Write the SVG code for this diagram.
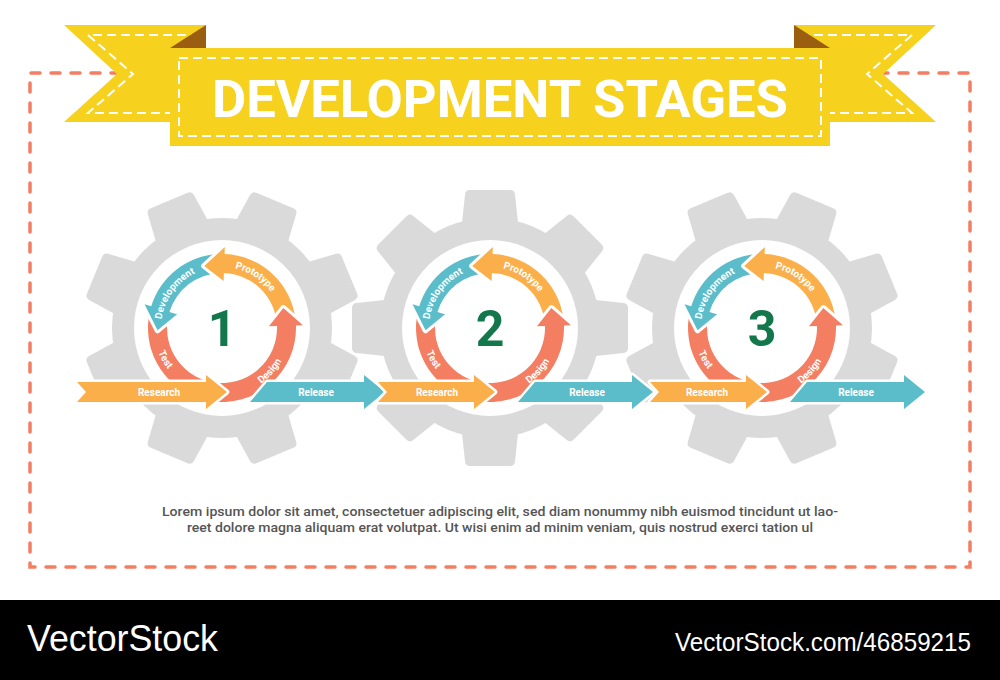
<svg xmlns="http://www.w3.org/2000/svg" xmlns:xlink="http://www.w3.org/1999/xlink" width="1000" height="680" viewBox="0 0 1000 680">
<style>
.gear{fill:#dadada}
.tooth{fill:#dadada;stroke:#dadada;stroke-width:10;stroke-linejoin:round}
.or{fill:#fbaf4a}
.tl{fill:#5bbdca}
.co{fill:#f47e62}
.wst{stroke:#fff;stroke-width:6;paint-order:stroke;stroke-linejoin:round}
.hst{stroke:#fff;stroke-width:5;paint-order:stroke;stroke-linejoin:round}
.lbl{font-family:Roboto,"Liberation Sans",sans-serif;font-weight:700;font-size:10px;fill:#fff;text-anchor:middle}
.num{font-family:Roboto,"Liberation Sans",sans-serif;font-weight:700;font-size:50px;fill:#14774c;text-anchor:middle}
.dash{fill:none;stroke:#fff;stroke-width:2;stroke-dasharray:9 5}
.yel{fill:#f6d21e}
.fold{fill:#9b5d10}
.body{font-family:Roboto,"Liberation Sans",sans-serif;font-weight:500;font-size:13px;fill:#555;text-anchor:middle}
</style>
<defs>
  <polygon id="tooth" class="tooth" points="-23,-105 -20,-133 20,-133 23,-105"/>
  <g id="gearShape">
    <circle class="gear" r="110"/>
    <use href="#tooth"/>
    <use href="#tooth" transform="rotate(45)"/>
    <use href="#tooth" transform="rotate(90)"/>
    <use href="#tooth" transform="rotate(135)"/>
    <use href="#tooth" transform="rotate(180)"/>
    <use href="#tooth" transform="rotate(225)"/>
    <use href="#tooth" transform="rotate(270)"/>
    <use href="#tooth" transform="rotate(315)"/>
  </g>
  <path id="arrTest" class="co wst" d="M -72.10 -16.65 A 74 74 0 0 0 -25.31 69.54 L -18.81 51.68 A 55 55 0 0 1 -53.59 -12.37 Z"/>
  <path id="arrDev" class="tl wst" d="M -2.58 -73.95 A 74 74 0 0 0 -70.77 -21.64 L -77.46 -23.68 L -64.46 2.25 L -44.95 -13.74 L -52.60 -16.08 A 55 55 0 0 1 -1.92 -54.97 Z"/>
  <path id="arrProto" class="or wst" d="M 73.59 -7.74 A 74 74 0 0 0 2.58 -73.95 L 2.83 -80.95 L -17.78 -62.00 L 1.64 -46.97 L 1.92 -54.97 A 55 55 0 0 1 54.70 -5.75 Z"/>
  <path id="arrDesign" class="co wst" d="M -12.85 72.88 A 74 74 0 0 0 73.95 -2.58 L 80.95 -2.83 L 61.34 -19.93 L 46.97 -1.64 L 54.97 -1.92 A 55 55 0 0 1 -9.55 54.16 Z"/>
  <path id="tpProto" d="M -12.68 -59.67 A 61 61 0 0 1 59.67 -12.68"/>
  <path id="tpDev" d="M -60.25 9.54 A 61 61 0 0 1 -9.54 -60.25"/>
  <path id="tpTest" d="M -65.37 -18.74 A 68 68 0 0 0 -18.74 65.37"/>
  <path id="tpDesign" d="M 3.56 67.91 A 68 68 0 0 0 67.91 -3.56"/>
</defs>

<rect width="1000" height="680" fill="#fff"/>

<!-- dashed frame -->
<path id="frame" d="M 120 73 L 30 73 L 30 567 L 970 567 L 970 73 L 880 73" fill="none" stroke="#f47e62" stroke-width="3.5" stroke-dasharray="9 11" stroke-linecap="round"/>

<!-- banner -->
<g id="banner">
  <polygon class="yel" points="64,25 206,25 206,122 64,122 117,74"/>
  <polygon class="yel" points="936,25 794,25 794,122 936,122 883,74"/>
  <path class="dash" d="M 200 35 L 88 35 L 133 74 L 88 113 L 172 113"/>
  <path class="dash" d="M 800 35 L 912 35 L 867 74 L 912 113 L 828 113"/>
  <polygon class="fold" points="170,48 206,25 206,48"/>
  <polygon class="fold" points="830,48 794,25 794,48"/>
  <rect class="yel" x="170" y="48" width="660" height="98"/>
  <rect class="dash" x="179" y="58" width="642" height="78"/>
  <text x="500" y="117" font-family="Roboto, 'Liberation Sans', sans-serif" font-weight="700" font-size="52" fill="#fff" text-anchor="middle" textLength="576" lengthAdjust="spacingAndGlyphs">DEVELOPMENT STAGES</text>
</g>

<!-- gear 1 -->
<g id="gear1" transform="translate(222,328)">
  <use href="#gearShape" transform="rotate(22.5)"/>
  <circle r="88" fill="#fff"/>
  <use href="#arrTest"/>
  <use href="#arrDev"/>
  <use href="#arrProto"/>
  <use href="#arrDesign"/>
  <text class="lbl"><textPath href="#tpProto" startOffset="50%">Prototype</textPath></text>
  <text class="lbl"><textPath href="#tpDev" startOffset="50%">Development</textPath></text>
  <text class="lbl"><textPath href="#tpTest" startOffset="50%">Test</textPath></text>
  <text class="lbl"><textPath href="#tpDesign" startOffset="50%">Design</textPath></text>
  <text class="num" x="0" y="18">1</text>
</g>

<!-- gear 2 -->
<g id="gear2" transform="translate(490,328)">
  <use href="#gearShape"/>
  <circle r="88" fill="#fff"/>
  <use href="#arrTest"/>
  <use href="#arrDev"/>
  <use href="#arrProto"/>
  <use href="#arrDesign"/>
  <text class="lbl"><textPath href="#tpProto" startOffset="50%">Prototype</textPath></text>
  <text class="lbl"><textPath href="#tpDev" startOffset="50%">Development</textPath></text>
  <text class="lbl"><textPath href="#tpTest" startOffset="50%">Test</textPath></text>
  <text class="lbl"><textPath href="#tpDesign" startOffset="50%">Design</textPath></text>
  <text class="num" x="0" y="18">2</text>
</g>

<!-- gear 3 -->
<g id="gear3" transform="translate(762,328)">
  <use href="#gearShape" transform="rotate(22.5)"/>
  <circle r="88" fill="#fff"/>
  <use href="#arrTest"/>
  <use href="#arrDev"/>
  <use href="#arrProto"/>
  <use href="#arrDesign"/>
  <text class="lbl"><textPath href="#tpProto" startOffset="50%">Prototype</textPath></text>
  <text class="lbl"><textPath href="#tpDev" startOffset="50%">Development</textPath></text>
  <text class="lbl"><textPath href="#tpTest" startOffset="50%">Test</textPath></text>
  <text class="lbl"><textPath href="#tpDesign" startOffset="50%">Design</textPath></text>
  <text class="num" x="0" y="18">3</text>
</g>

<!-- connectors: research / release arrows -->
<g id="connectors">
  <polygon class="or hst" points="77,382 206,382 206,375 227,392 206,409 206,402 77,402 86,392"/>
  <text class="lbl" x="159" y="395.5">Research</text>
  <polygon class="tl hst" points="250,402 267,382 364,382 364,375 385,392 364,409 364,402"/>
  <text class="lbl" x="316" y="395.5">Release</text>

  <polygon class="or hst" points="378,382 474,382 474,375 495,392 474,409 474,402 378,402 387,392"/>
  <text class="lbl" x="437" y="395.5">Research</text>
  <polygon class="tl hst" points="518,402 535,382 632,382 632,375 653,392 632,409 632,402"/>
  <text class="lbl" x="587" y="395.5">Release</text>

  <polygon class="or hst" points="650,382 746,382 746,375 767,392 746,409 746,402 650,402 659,392"/>
  <text class="lbl" x="707" y="395.5">Research</text>
  <polygon class="tl hst" points="790,402 807,382 904,382 904,375 925,392 904,409 904,402"/>
  <text class="lbl" x="856" y="395.5">Release</text>
</g>

<!-- description -->
<g id="description">
  <text class="body" x="500" y="516" textLength="676" lengthAdjust="spacingAndGlyphs">Lorem ipsum dolor sit amet, consectetuer adipiscing elit, sed diam nonummy nibh euismod tincidunt ut lao-</text>
  <text class="body" x="500" y="532" textLength="626" lengthAdjust="spacingAndGlyphs">reet dolore magna aliquam erat volutpat. Ut wisi enim ad minim veniam, quis nostrud exerci tation ul</text>
</g>

<!-- footer -->
<g id="footer">
  <rect x="0" y="600" width="1000" height="80" fill="#000"/>
  <text x="27" y="651" font-family="'Liberation Sans', Arial, sans-serif" font-size="36" fill="#fff" textLength="191" lengthAdjust="spacingAndGlyphs">VectorStock</text>
  <text x="971" y="651" font-family="'Liberation Sans', Arial, sans-serif" font-size="25" fill="#fff" text-anchor="end" textLength="296" lengthAdjust="spacingAndGlyphs">VectorStock.com/46859215</text>
</g>
</svg>
